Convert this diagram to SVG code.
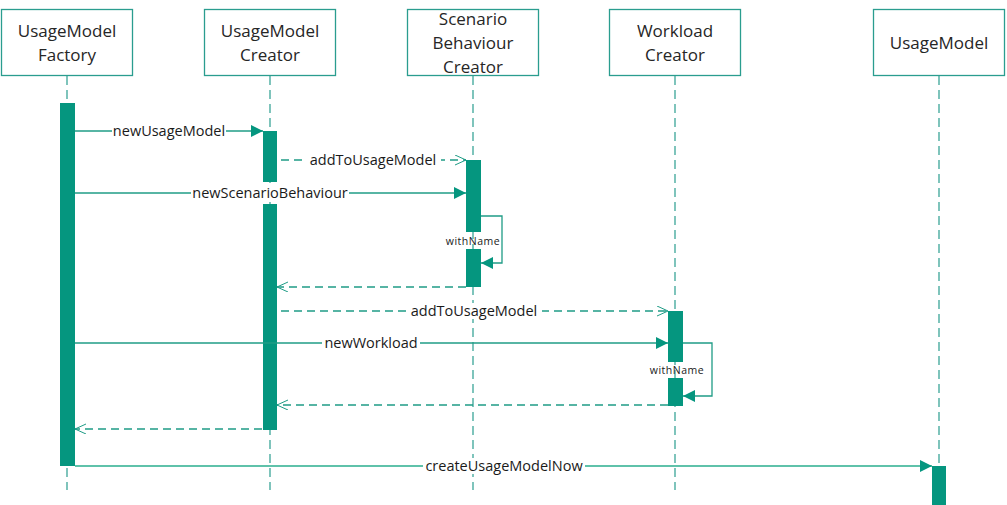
<svg xmlns="http://www.w3.org/2000/svg" width="1007" height="505" viewBox="0 0 1007 505">
<style>
.box{fill:#fff;stroke:#2a9d8f;stroke-width:1.3}
.hd{font-family:"Open Sans","Liberation Sans",sans-serif;font-size:17px;fill:#262626;text-anchor:middle}
.life{stroke:#2a9d8f;stroke-width:1.2;stroke-dasharray:9,5;fill:none}
.act{fill:#05967f}
.msg{stroke:#1f9c86;stroke-width:1.3;fill:none}
.ret{stroke:#1f9c86;stroke-width:1.3;fill:none;stroke-dasharray:8,5}
.lbl{font-family:"Open Sans","Liberation Sans",sans-serif;font-size:14.5px;fill:#1a1a1a;text-anchor:middle}
.sm{font-family:"Open Sans","Liberation Sans",sans-serif;font-size:10.5px;fill:#1a1a1a;text-anchor:middle;letter-spacing:0.5px}
.bg{fill:#fff}
</style>
<defs>
<marker id="fill" markerWidth="14" markerHeight="14" refX="12" refY="6" orient="auto" markerUnits="userSpaceOnUse">
<path d="M0,0 L12,6 L0,12 Z" fill="#05967f"/>
</marker>
<marker id="open" markerWidth="14" markerHeight="14" refX="11" refY="5" orient="auto" markerUnits="userSpaceOnUse">
<path d="M0,0 L11,5 L0,10" fill="none" stroke="#1f9c86" stroke-width="1"/>
</marker>
</defs>
<g id="lifelines">
<line class="life" x1="67" y1="76" x2="67" y2="490"/>
<line class="life" x1="270" y1="76" x2="270" y2="490"/>
<line class="life" x1="473" y1="76" x2="473" y2="490"/>
<line class="life" x1="675" y1="76" x2="675" y2="490"/>
<line class="life" x1="939" y1="76" x2="939" y2="466"/>
</g>
<g id="UsageModelFactory">
<rect class="box" x="1.5" y="9.5" width="131" height="66"/>
<text class="hd" x="67" y="37">UsageModel</text>
<text class="hd" x="67" y="61">Factory</text>
<rect class="act" x="60" y="103" width="15" height="363"/>
</g>
<g id="UsageModelCreator">
<rect class="box" x="204.5" y="9.5" width="131" height="66"/>
<text class="hd" x="270" y="37">UsageModel</text>
<text class="hd" x="270" y="61">Creator</text>
<rect class="act" x="263" y="131" width="14" height="51"/>
<rect class="act" x="263" y="204" width="14" height="226"/>
</g>
<g id="ScenarioBehaviourCreator">
<rect class="box" x="407.5" y="9.5" width="131" height="66"/>
<text class="hd" x="473" y="25">Scenario</text>
<text class="hd" x="473" y="49">Behaviour</text>
<text class="hd" x="473" y="73">Creator</text>
<rect class="act" x="466" y="160" width="15" height="72"/>
<rect class="act" x="466" y="249" width="15" height="38"/>
</g>
<g id="WorkloadCreator">
<rect class="box" x="609.5" y="9.5" width="131" height="66"/>
<text class="hd" x="675" y="37">Workload</text>
<text class="hd" x="675" y="61">Creator</text>
<rect class="act" x="668" y="311" width="15" height="51"/>
<rect class="act" x="668" y="378" width="15" height="28"/>
</g>
<g id="UsageModel">
<rect class="box" x="873.5" y="9.5" width="131" height="66"/>
<text class="hd" x="939" y="49">UsageModel</text>
<rect class="act" x="932" y="466" width="14" height="39"/>
</g>
<g id="connectors">
<line class="msg" x1="75" y1="131" x2="263" y2="131" marker-end="url(#fill)"/>
<rect class="bg" x="112" y="123" width="114" height="16"/>
<text class="lbl" x="169" y="136">newUsageModel</text>

<line class="ret" x1="281" y1="160" x2="466" y2="160" marker-end="url(#open)"/>
<rect class="bg" x="305" y="152" width="136" height="16"/>
<text class="lbl" x="373" y="165">addToUsageModel</text>

<line class="msg" x1="75" y1="193" x2="466" y2="193" marker-end="url(#fill)"/>
<rect class="bg" x="191" y="185" width="158" height="16"/>
<text class="lbl" x="270" y="198">newScenarioBehaviour</text>

<polyline class="msg" points="481,216 502,216 502,263 481,263" marker-end="url(#fill)"/>
<text class="sm" x="473" y="245">withName</text>

<line class="ret" x1="466" y1="287" x2="277" y2="287" marker-end="url(#open)"/>

<line class="ret" x1="281" y1="311" x2="668" y2="311" marker-end="url(#open)"/>
<rect class="bg" x="406" y="303" width="136" height="16"/>
<text class="lbl" x="474" y="316">addToUsageModel</text>

<line class="msg" x1="75" y1="343" x2="668" y2="343" marker-end="url(#fill)"/>
<rect class="bg" x="322" y="335" width="98" height="16"/>
<text class="lbl" x="371" y="348">newWorkload</text>

<polyline class="msg" points="683,343 712,343 712,396 683,396" marker-end="url(#fill)"/>
<text class="sm" x="677" y="374">withName</text>

<line class="ret" x1="668" y1="405" x2="277" y2="405" marker-end="url(#open)"/>
<line class="ret" x1="262" y1="429" x2="75" y2="429" marker-end="url(#open)"/>

<line x1="75" y1="466" x2="932" y2="466" stroke="#5fc2aa" stroke-width="2" marker-end="url(#fill)"/>
<rect class="bg" x="423" y="458" width="162" height="16"/>
<text class="lbl" x="504" y="471">createUsageModelNow</text>
</g>
</svg>
